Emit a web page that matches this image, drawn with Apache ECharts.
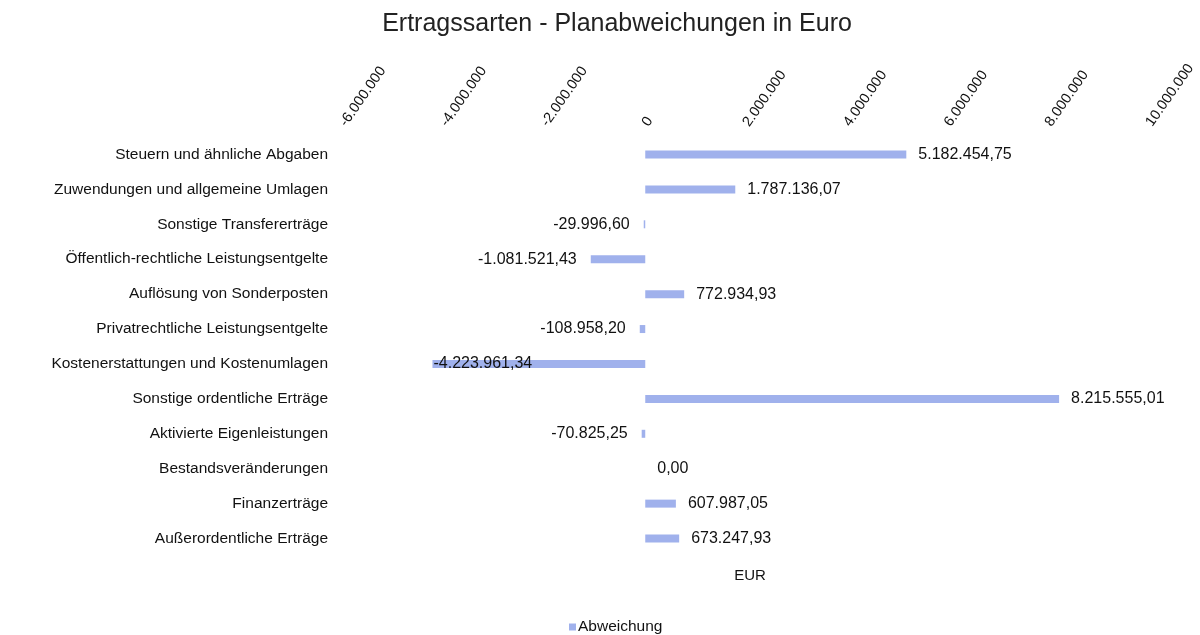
<!DOCTYPE html>
<html>
<head>
<meta charset="utf-8">
<script src="https://cdn.jsdelivr.net/npm/echarts@6/dist/echarts.min.js"></script>
<style>
  html, body { margin: 0; padding: 0; background: #fff; }
  #chart { width: 1200px; height: 635px; }
</style>
</head>
<body>
<div id="chart"></div>
<script>
// Kategorien (von oben nach unten)
var categories = [
  'Steuern und ähnliche Abgaben',
  'Zuwendungen und allgemeine Umlagen',
  'Sonstige Transfererträge',
  'Öffentlich-rechtliche Leistungsentgelte',
  'Auflösung von Sonderposten',
  'Privatrechtliche Leistungsentgelte',
  'Kostenerstattungen und Kostenumlagen',
  'Sonstige ordentliche Erträge',
  'Aktivierte Eigenleistungen',
  'Bestandsveränderungen',
  'Finanzerträge',
  'Außerordentliche Erträge'
]
var abweichung = [
  5182454.75, 1787136.07, -29996.60, -1081521.43, 772934.93, -108958.20,
  -4223961.34, 8215555.01, -70825.25, 0.00, 607987.05, 673247.93
]

var fmt = function (v) {
  return v.toLocaleString('de-DE', { minimumFractionDigits: 2, maximumFractionDigits: 2 })
}
var fmtAxis = function (v) {
  return v.toLocaleString('de-DE', { maximumFractionDigits: 0 })
}

var chart = echarts.init(document.getElementById('chart'))

// Labels: positiv rechts, negativ links, sehr lange Balken innen
var seriesData = abweichung.map(function (v) {
  var item = { value: v }
  if (v < -3000000) {
    item.label = { position: 'insideLeft', distance: 1 }
  } else if (v < 0) {
    item.label = { position: 'left', distance: 14 }
  }
  return item
})

chart.setOption({
  backgroundColor: '#fff',
  textStyle: { fontFamily: 'Liberation Sans, Arial, sans-serif' },
  title: [{
    text: 'Ertragssarten - Planabweichungen in Euro',
    left: 612,
    top: 7,
    textAlign: 'center',
    textStyle: { fontSize: 25, fontWeight: 'normal', color: '#222' }
  }, {
    text: 'EUR',
    left: 745,
    top: 563,
    textAlign: 'center',
    textStyle: { fontSize: 15, fontWeight: 'normal', color: '#111' }
  }],
  legend: {
    top: 614,
    left: 564,
    itemWidth: 7,
    itemHeight: 7,
    itemGap: 4,
    icon: 'rect',
    textStyle: { fontSize: 15.5, color: '#111', padding: [0, 0, 0, -3] },
    data: ['Abweichung']
  },
  grid: {
    left: 343,
    right: 51,
    top: 137,
    height: 419,
    containLabel: false
  },
  xAxis: {
    type: 'value',
    position: 'top',
    min: -6000000,
    max: 10000000,
    interval: 2000000,
    axisLine: { show: false },
    axisTick: { show: false },
    splitLine: { show: false },
    axisLabel: {
      rotate: -55,
      margin: 12,
      fontSize: 14.5,
      color: '#111',
      formatter: fmtAxis
    }
  },
  yAxis: {
    type: 'category',
    inverse: true,
    data: categories,
    axisLine: { show: false },
    axisTick: { show: false },
    splitLine: { show: false },
    axisLabel: { fontSize: 15.5, color: '#111', margin: 15 }
  },
  series: [{
    name: 'Abweichung',
    type: 'bar',
    barWidth: 8,
    itemStyle: { color: '#a0b1ec' },
    label: {
      show: true,
      position: 'right',
      distance: 12,
      fontSize: 16,
      color: '#111',
      formatter: function (p) { return fmt(p.value) }
    },
    data: seriesData
  }]
})
</script>
</body>
</html>
